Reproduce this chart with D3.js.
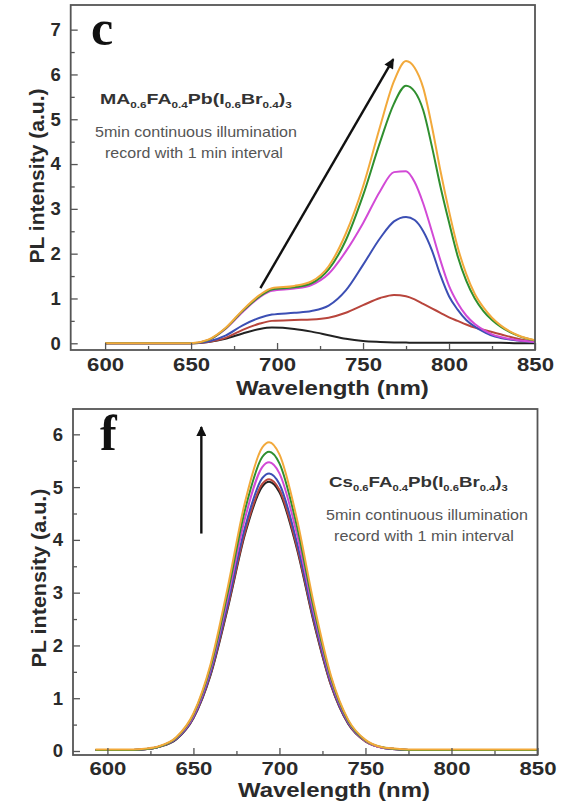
<!DOCTYPE html>
<html><head><meta charset="utf-8">
<script src="https://cdn.jsdelivr.net/npm/d3@7/dist/d3.min.js"></script>
<style>body{margin:0;background:#fff}svg{display:block}</style>
</head><body>
<svg id="chart" width="578" height="801"></svg>
<script>
// ---------- DATA ----------
const seriesLabels = ["0 min","1 min","2 min","3 min","4 min","5 min"];
const seriesColors = ["#222222","#b8453c","#3c4fb4","#d24ad6","#2f8f2f","#f2a93b"];
const xTickValues = [600,650,700,750,800,850];
const xMinorValues = [625,675,725,775,825];
const yTicksTop = [0,1,2,3,4,5,6,7];
const yMinorTop = [0.5,1.5,2.5,3.5,4.5,5.5,6.5];
const yTicksBottom = [0,1,2,3,4,5,6];
const yMinorBottom = [0.5,1.5,2.5,3.5,4.5,5.5];

// panel c : MA0.6FA0.4Pb(I0.6Br0.4)3
const wlTop = [600,650,660,670,680,690,697,710,720,730,740,750,760,768,775,780,785,790,795,800,805,810,815,820,825,830,840,850];
const topBlack   = [0,0,0.03,0.10,0.22,0.32,0.35,0.32,0.26,0.18,0.10,0.05,0.03,0.02,0.015,0.01,0.01,0.01,0.01,0.01,0.01,0.01,0.01,0.01,0.01,0.01,0,0];
const topRed     = [0,0,0.03,0.12,0.30,0.44,0.50,0.52,0.53,0.57,0.68,0.85,1.01,1.08,1.05,0.98,0.88,0.78,0.68,0.58,0.50,0.42,0.35,0.30,0.25,0.20,0.10,0.02];
const topBlue    = [0,0,0.04,0.17,0.40,0.57,0.64,0.68,0.72,0.84,1.18,1.75,2.35,2.72,2.82,2.75,2.50,2.08,1.52,1.05,0.75,0.52,0.37,0.26,0.17,0.12,0.06,0.02];
const topMagenta = [0,0,0.07,0.32,0.70,1.03,1.17,1.22,1.30,1.55,2.05,2.68,3.40,3.82,3.84,3.60,3.12,2.50,1.85,1.28,0.90,0.62,0.43,0.30,0.20,0.14,0.07,0.03];
const topGreen   = [0,0,0.07,0.33,0.72,1.05,1.20,1.25,1.34,1.65,2.30,3.30,4.50,5.35,5.75,5.62,5.20,4.40,3.50,2.70,1.95,1.40,1.00,0.72,0.52,0.37,0.17,0.06];
const topOrange  = [0,0,0.08,0.34,0.74,1.08,1.23,1.28,1.38,1.72,2.45,3.50,4.85,5.85,6.30,6.15,5.70,4.85,3.85,2.95,2.15,1.55,1.10,0.80,0.57,0.40,0.18,0.07];

// panel f : Cs0.6FA0.4Pb(I0.6Br0.4)3
const wlBottom = [593,600,610,620,630,640,650,660,670,680,690,694,700,710,720,730,740,750,760,770,780,800,820,850];
const botBlack   = [0.02,0.02,0.02,0.03,0.08,0.22,0.62,1.44,2.71,4.11,5.01,5.10,4.90,3.85,2.43,1.24,0.51,0.18,0.06,0.03,0.02,0.02,0.02,0.02];
const botRed     = [0.02,0.02,0.02,0.03,0.08,0.23,0.63,1.46,2.74,4.15,5.06,5.15,4.95,3.89,2.46,1.25,0.52,0.18,0.06,0.03,0.02,0.02,0.02,0.02];
const botBlue    = [0.02,0.02,0.02,0.03,0.08,0.23,0.64,1.49,2.80,4.24,5.17,5.26,5.06,3.97,2.51,1.28,0.53,0.19,0.06,0.03,0.02,0.02,0.02,0.02];
const botMagenta = [0.02,0.02,0.02,0.03,0.08,0.24,0.66,1.55,2.91,4.41,5.38,5.47,5.26,4.13,2.61,1.33,0.55,0.19,0.06,0.03,0.02,0.02,0.02,0.02];
const botGreen   = [0.02,0.02,0.02,0.03,0.08,0.25,0.69,1.60,3.01,4.57,5.57,5.67,5.45,4.28,2.70,1.38,0.57,0.20,0.07,0.03,0.02,0.02,0.02,0.02];
const botOrange  = [0.03,0.03,0.03,0.04,0.09,0.26,0.71,1.65,3.11,4.72,5.75,5.85,5.62,4.42,2.79,1.42,0.59,0.21,0.07,0.04,0.03,0.03,0.03,0.03];

// annotation arrows, in data units [wavelength, intensity]
const arrowTop = [[690.3,1.23],[767.6,6.34]];
const arrowBottom = [[654.6,4.12],[654.6,6.14]];

// ---------- DRAW ----------
const svg = d3.select("#chart");
svg.append("rect").attr("width",578).attr("height",801).attr("fill","#fff");
const defs = svg.append("defs");
defs.append("marker").attr("id","ah").attr("viewBox","0 0 10 10")
  .attr("refX",9).attr("refY",5).attr("markerWidth",12).attr("markerHeight",10)
  .attr("markerUnits","userSpaceOnUse").attr("orient","auto")
  .append("path").attr("d","M0,0 L10,5 L0,10 Z").attr("fill","#111");

const SANS = "'Liberation Sans', Arial, sans-serif";

function fitText(sel, x0, target){
  const w = sel.node().getBBox().width;
  const k = target / w;
  sel.attr("transform", `translate(${x0},0) scale(${k},1) translate(${-x0},0)`);
}

function formula(g, x0, y0, parts, width){
  const t = g.append("text").attr("x",x0).attr("y",y0)
    .attr("font-family",SANS).attr("font-weight","bold").attr("font-size",15).attr("fill","#333");
  let sub = false;
  parts.forEach(([s,isSub])=>{
    const ts = t.append("tspan").text(s);
    if(isSub && !sub){ ts.attr("dy",4).attr("font-size",9); sub = true; }
    else if(isSub){ ts.attr("font-size",9); }
    else if(!isSub && sub){ ts.attr("dy",-4); sub = false; }
  });
  fitText(t, x0, width);
}
function plainText(g, x0, y0, str, width, size, color, weight){
  const t = g.append("text").attr("x",x0).attr("y",y0)
    .attr("font-family",SANS).attr("font-weight",weight||"normal")
    .attr("font-size",size).attr("fill",color).text(str);
  fitText(t, x0, width);
  return t;
}

function panel(cfg){
  const x = d3.scaleLinear().domain([580,850]).range(cfg.xr);
  const y = d3.scaleLinear().domain(cfg.yd).range(cfg.yr);
  const g = svg.append("g");
  const line = d3.line().x((d,i)=>x(cfg.wl[i])).y(d=>y(d)).curve(d3.curveMonotoneX);

  // curves
  cfg.series.forEach((s,i)=>{
    g.append("path").datum(s).attr("d",line).attr("fill","none")
      .attr("stroke",seriesColors[i]).attr("stroke-width",2).attr("stroke-linejoin","round");
  });

  // axes
  const yb = cfg.yr[0];
  const ax = g.append("g").attr("transform",`translate(0,${yb})`)
    .call(d3.axisBottom(x).tickValues(xTickValues).tickSize(-7).tickPadding(cfg.xPad).tickFormat(d3.format("d")));
  g.append("g").attr("transform",`translate(0,${yb})`)
    .call(d3.axisBottom(x).tickValues(xMinorValues).tickSize(-4).tickFormat(""));
  g.append("g").attr("transform",`translate(${cfg.xr[0]},0)`)
    .call(d3.axisLeft(y).tickValues(cfg.yTicks).tickSize(-7).tickPadding(10).tickFormat(d3.format("d")));
  g.append("g").attr("transform",`translate(${cfg.xr[0]},0)`)
    .call(d3.axisLeft(y).tickValues(cfg.yMinor).tickSize(-4).tickFormat(""));
  g.selectAll(".domain").remove();
  g.selectAll(".tick line").attr("stroke","#555").attr("stroke-width",1.3);
  g.selectAll(".tick text").attr("font-family",SANS).attr("font-weight","bold")
    .attr("font-size",18.5).attr("fill","#2a2a2a");
  ax.selectAll(".tick text").attr("textLength",37).attr("lengthAdjust","spacingAndGlyphs");

  // frame
  g.append("rect").attr("x",cfg.xr[0]).attr("y",cfg.yr[1])
    .attr("width",cfg.xr[1]-cfg.xr[0]).attr("height",cfg.yr[0]-cfg.yr[1])
    .attr("fill","none").attr("stroke","#555").attr("stroke-width",1.8);

  // arrow
  g.append("line").attr("x1",x(cfg.arrow[0][0])).attr("y1",y(cfg.arrow[0][1]))
    .attr("x2",x(cfg.arrow[1][0])).attr("y2",y(cfg.arrow[1][1]))
    .attr("stroke","#111").attr("stroke-width",2.4).attr("marker-end","url(#ah)");

  // panel letter
  g.append("text").attr("x",cfg.letterPos[0]).attr("y",cfg.letterPos[1])
    .attr("font-family","'Liberation Serif','Times New Roman',serif").attr("font-weight","bold")
    .attr("font-size",50).attr("fill","#111").text(cfg.letter);

  // axis titles
  plainText(g, cfg.xTitle[0], cfg.xTitle[1], "Wavelength (nm)", cfg.xTitle[2], 20, "#2a2a2a", "bold");
  g.append("text").attr("transform",`translate(${cfg.yTitle[0]},${cfg.yTitle[1]}) rotate(-90)`)
    .attr("text-anchor","middle").attr("font-family",SANS).attr("font-weight","bold")
    .attr("font-size",21).attr("fill","#2a2a2a").attr("textLength",cfg.yTitle[2])
    .attr("lengthAdjust","spacingAndGlyphs").text("PL intensity (a.u.)");

  // annotation text
  formula(g, cfg.f[0], cfg.f[1], cfg.formula, cfg.f[2]);
  plainText(g, cfg.l1[0], cfg.l1[1], "5min continuous illumination", cfg.l1[2], 14, "#555");
  plainText(g, cfg.l2[0], cfg.l2[1], "record with 1 min interval", cfg.l2[2], 14, "#555");
}

panel({
  wl: wlTop, series:[topBlack,topRed,topBlue,topMagenta,topGreen,topOrange],
  xr:[70.7,535], yr:[350,5], yd:[-0.15,7.55], yTicks:yTicksTop, yMinor:yMinorTop,
  xPad:8, arrow:arrowTop, letter:"c", letterPos:[91,45],
  xTitle:[236,395,193], yTitle:[44,176,175],
  formula:[["MA",0],["0.6",1],["FA",0],["0.4",1],["Pb(I",0],["0.6",1],["Br",0],["0.4",1],[")",0],["3",1]],
  f:[100,104,192], l1:[95,137,202], l2:[105,158,178]
});
panel({
  wl: wlBottom, series:[botBlack,botRed,botBlue,botMagenta,botGreen,botOrange],
  xr:[73,537.5], yr:[755,409], yd:[-0.076,6.48], yTicks:yTicksBottom, yMinor:yMinorBottom,
  xPad:7, arrow:arrowBottom, letter:"f", letterPos:[100,450],
  xTitle:[238,797,192], yTitle:[46,578,179],
  formula:[["Cs",0],["0.6",1],["FA",0],["0.4",1],["Pb(I",0],["0.6",1],["Br",0],["0.4",1],[")",0],["3",1]],
  f:[329,487,179], l1:[326,520,202], l2:[334,541.5,180]
});
</script>
</body></html>
